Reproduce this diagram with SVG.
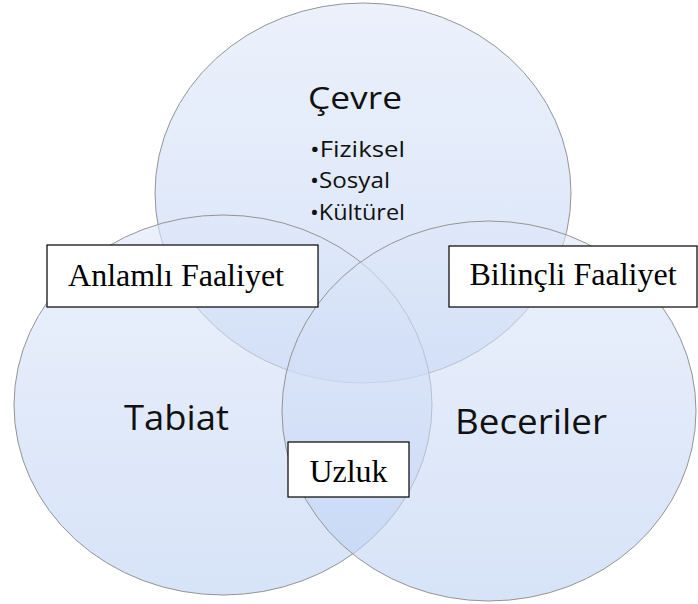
<svg xmlns="http://www.w3.org/2000/svg" width="698" height="604" viewBox="0 0 698 604">
  <defs>
    <linearGradient id="g" x1="0" y1="0" x2="0" y2="1">
      <stop offset="0" stop-color="#DFE8F9"/>
      <stop offset="1" stop-color="#BCD0F3"/>
    </linearGradient>
    <style>
      .c { fill: url(#g); fill-opacity: 0.6; stroke: #949494; stroke-width: 1; }
      .t { font-family: "Open Sans", "Noto Sans", sans-serif; fill: #111; }
      .b { fill: #fff; stroke: #000; stroke-width: 1.2; }
      .s { font-family: "Liberation Serif", "Times New Roman", serif; fill: #000; font-size: 32px; }
    </style>
  </defs>
  <rect width="698" height="604" fill="#fff"/>
  <g id="cevre">
    <ellipse class="c" cx="363" cy="193" rx="208" ry="190"/>
  </g>
  <g id="tabiat">
    <ellipse class="c" cx="223" cy="405" rx="209" ry="190"/>
  </g>
  <g id="beceriler">
    <ellipse class="c" cx="489" cy="411" rx="207" ry="190"/>
  </g>
  <g id="labels">
    <text class="t" x="308" y="109" font-size="31" textLength="94" lengthAdjust="spacingAndGlyphs">Çevre</text>
    <text class="t" x="310" y="157" font-size="21" textLength="95" lengthAdjust="spacingAndGlyphs">•Fiziksel</text>
    <text class="t" x="310" y="188" font-size="21" textLength="80" lengthAdjust="spacingAndGlyphs">•Sosyal</text>
    <text class="t" x="310" y="220" font-size="21" textLength="95" lengthAdjust="spacingAndGlyphs">•Kültürel</text>
    <text class="t" x="124" y="430" font-size="34" textLength="105" lengthAdjust="spacingAndGlyphs">Tabiat</text>
    <text class="t" x="455" y="434" font-size="34" textLength="152" lengthAdjust="spacingAndGlyphs">Beceriler</text>
  </g>
  <g id="anlamli-faaliyet">
    <rect class="b" x="47" y="245" width="271" height="62"/>
    <text class="s" x="176" y="286" text-anchor="middle">Anlamlı Faaliyet</text>
  </g>
  <g id="bilincli-faaliyet">
    <rect class="b" x="449" y="246" width="248" height="61"/>
    <text class="s" x="573" y="285" text-anchor="middle">Bilinçli Faaliyet</text>
  </g>
  <g id="uzluk">
    <rect class="b" x="288" y="442" width="121" height="55"/>
    <text class="s" x="348.5" y="482" text-anchor="middle">Uzluk</text>
  </g>
  <g id="connectors"/>
</svg>
